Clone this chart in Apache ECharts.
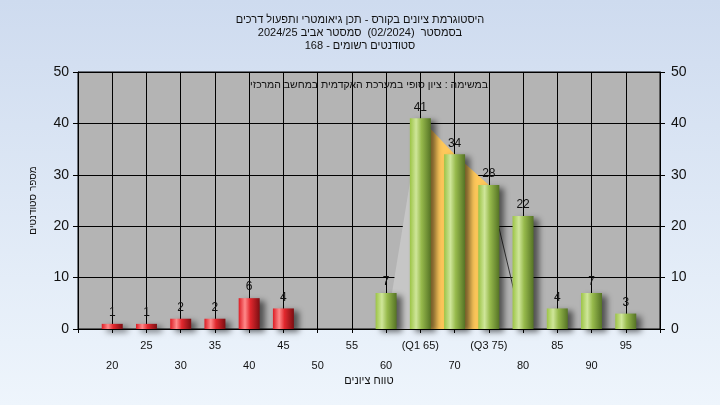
<!DOCTYPE html>
<html><head><meta charset="utf-8">
<script src="https://cdn.jsdelivr.net/npm/echarts@6/dist/echarts.min.js"></script>
<style>html,body{margin:0;padding:0;width:720px;height:405px;overflow:hidden;}#c{width:720px;height:405px;direction:rtl;}</style>
</head><body><div id="c"></div>
<script>
const titleLines = ['היסטוגרמת ציונים בקורס - תכן גיאומטרי ותפעול דרכים', 'בסמסטר  (02/2024)  סמסטר אביב 2024/25', 'סטודנטים רשומים - 168'];
const subtitle = 'במשימה : ציון סופי במערכת האקדמית במחשב המרכזי';
const xAxisTitle = 'טווח ציונים';
const yAxisTitle = 'מספר סטודנטים';
const scores = [20, 25, 30, 35, 40, 45, 50, 55, 60, 65, 70, 75, 80, 85, 90, 95];
const counts = [1, 1, 2, 2, 6, 4, 0, 0, 7, 41, 34, 28, 22, 4, 7, 3];
const tickLabels = ['20', '25', '30', '35', '40', '45', '50', '55', '60', '(Q1 65)', '70', '(Q3 75)', '80', '85', '90', '95'];
const passMark = 55;
const q1 = 65, q3 = 75;
const tailStart = 60, tailEnd = 80;
const xMin = 15, xMax = 100, xStep = 5;
const yMin = 0, yMax = 50, yStep = 10;

const FONT = 'Liberation Sans, Arial, sans-serif';
const cnt = s => counts[scores.indexOf(s)];
const redGrad = new echarts.graphic.LinearGradient(0, 0, 1, 0, [
  {offset: 0, color: '#dc1c24'}, {offset: 0.3, color: '#ff8a8a'}, {offset: 0.55, color: '#e2282e'}, {offset: 1, color: '#7c0e12'}]);
const greenGrad = new echarts.graphic.LinearGradient(0, 0, 1, 0, [
  {offset: 0, color: '#9cc446'}, {offset: 0.3, color: '#cfe69a'}, {offset: 0.55, color: '#97ba4c'}, {offset: 1, color: '#557325'}]);

const barData = [];
scores.forEach((s, i) => {
  if (counts[i] > 0) barData.push({value: [s, counts[i]], itemStyle: {color: s < passMark ? redGrad : greenGrad}});
});
const leftTail = [[tailStart, 0], [q1, cnt(q1)]];
const iqr = scores.filter(s => s >= q1 && s <= q3).map(s => [s, cnt(s)]);
const rightTail = [[q3, cnt(q3)], [tailEnd, 0]];

const chart = echarts.init(document.getElementById('c'));
chart.setOption({
  animation: false,
  backgroundColor: new echarts.graphic.LinearGradient(0, 0, 0, 1, [{offset: 0, color: '#cedbef'}, {offset: 1, color: '#eef5fc'}]),
  textStyle: {fontFamily: FONT},
  title: {
    text: titleLines.join('\n'), left: 'center', top: 8,
    textStyle: {fontSize: 11, lineHeight: 13, color: '#111', fontWeight: 'normal', fontFamily: FONT}
  },
  graphic: [{type: 'text', x: 369, y: 85, z: 10, style: {text: subtitle, textAlign: 'center', textVerticalAlign: 'middle', font: '10.5px ' + FONT, fill: '#111'}}],
  grid: {left: 78, right: 60, top: 72, bottom: 76, show: true, backgroundColor: '#b4b4b4', borderColor: '#000', borderWidth: 1},
  xAxis: {
    type: 'value', min: xMin, max: xMax, interval: xStep,
    name: xAxisTitle, nameLocation: 'middle', nameGap: 46, nameMoveOverlap: false,
    nameTextStyle: {fontSize: 11, color: '#111', fontFamily: FONT},
    axisLine: {lineStyle: {color: '#000', width: 1}},
    axisTick: {show: true, length: 4, lineStyle: {color: '#000'}},
    splitLine: {show: true, lineStyle: {color: '#000', width: 1}},
    axisLabel: {
      fontSize: 11, color: '#111', lineHeight: 20, margin: 7, fontFamily: FONT,
      formatter: v => { const i = scores.indexOf(v); if (i < 0) return ''; return i % 2 === 0 ? '\n' + tickLabels[i] : tickLabels[i]; }
    }
  },
  yAxis: [{
    type: 'value', min: yMin, max: yMax, interval: yStep, position: 'left',
    name: yAxisTitle, nameLocation: 'middle', nameGap: 40, nameMoveOverlap: false,
    nameTextStyle: {fontSize: 10, color: '#111', fontFamily: FONT},
    axisLine: {show: true, lineStyle: {color: '#000'}},
    axisTick: {show: true, length: 5, lineStyle: {color: '#000'}},
    axisLabel: {fontSize: 14, color: '#111', margin: 9, fontFamily: FONT},
    splitLine: {show: true, lineStyle: {color: '#000', width: 1}}
  }, {
    type: 'value', min: yMin, max: yMax, interval: yStep, position: 'right',
    axisLine: {show: true, lineStyle: {color: '#000'}},
    axisTick: {show: true, length: 5, lineStyle: {color: '#000'}},
    axisLabel: {fontSize: 14, color: '#111', margin: 11, fontFamily: FONT},
    splitLine: {show: false}
  }],
  series: [
    {type: 'line', data: leftTail, symbol: 'none', z: 1, lineStyle: {width: 0}, areaStyle: {color: '#c6c6c6', opacity: 1}},
    {type: 'line', data: iqr, symbol: 'none', z: 1, lineStyle: {width: 0}, areaStyle: {color: '#ffc85a', opacity: 1}},
    {type: 'line', data: rightTail, symbol: 'none', z: 1, lineStyle: {width: 1, color: '#333'}},
    {
      type: 'bar', data: barData, barWidth: 21, z: 3,
      itemStyle: {shadowBlur: 6, shadowOffsetX: 5, shadowOffsetY: 3, shadowColor: 'rgba(0,0,0,0.55)'},
      label: {show: true, position: 'top', distance: 5, fontSize: 12, color: '#111', fontFamily: FONT}
    }
  ]
});
</script></body></html>
